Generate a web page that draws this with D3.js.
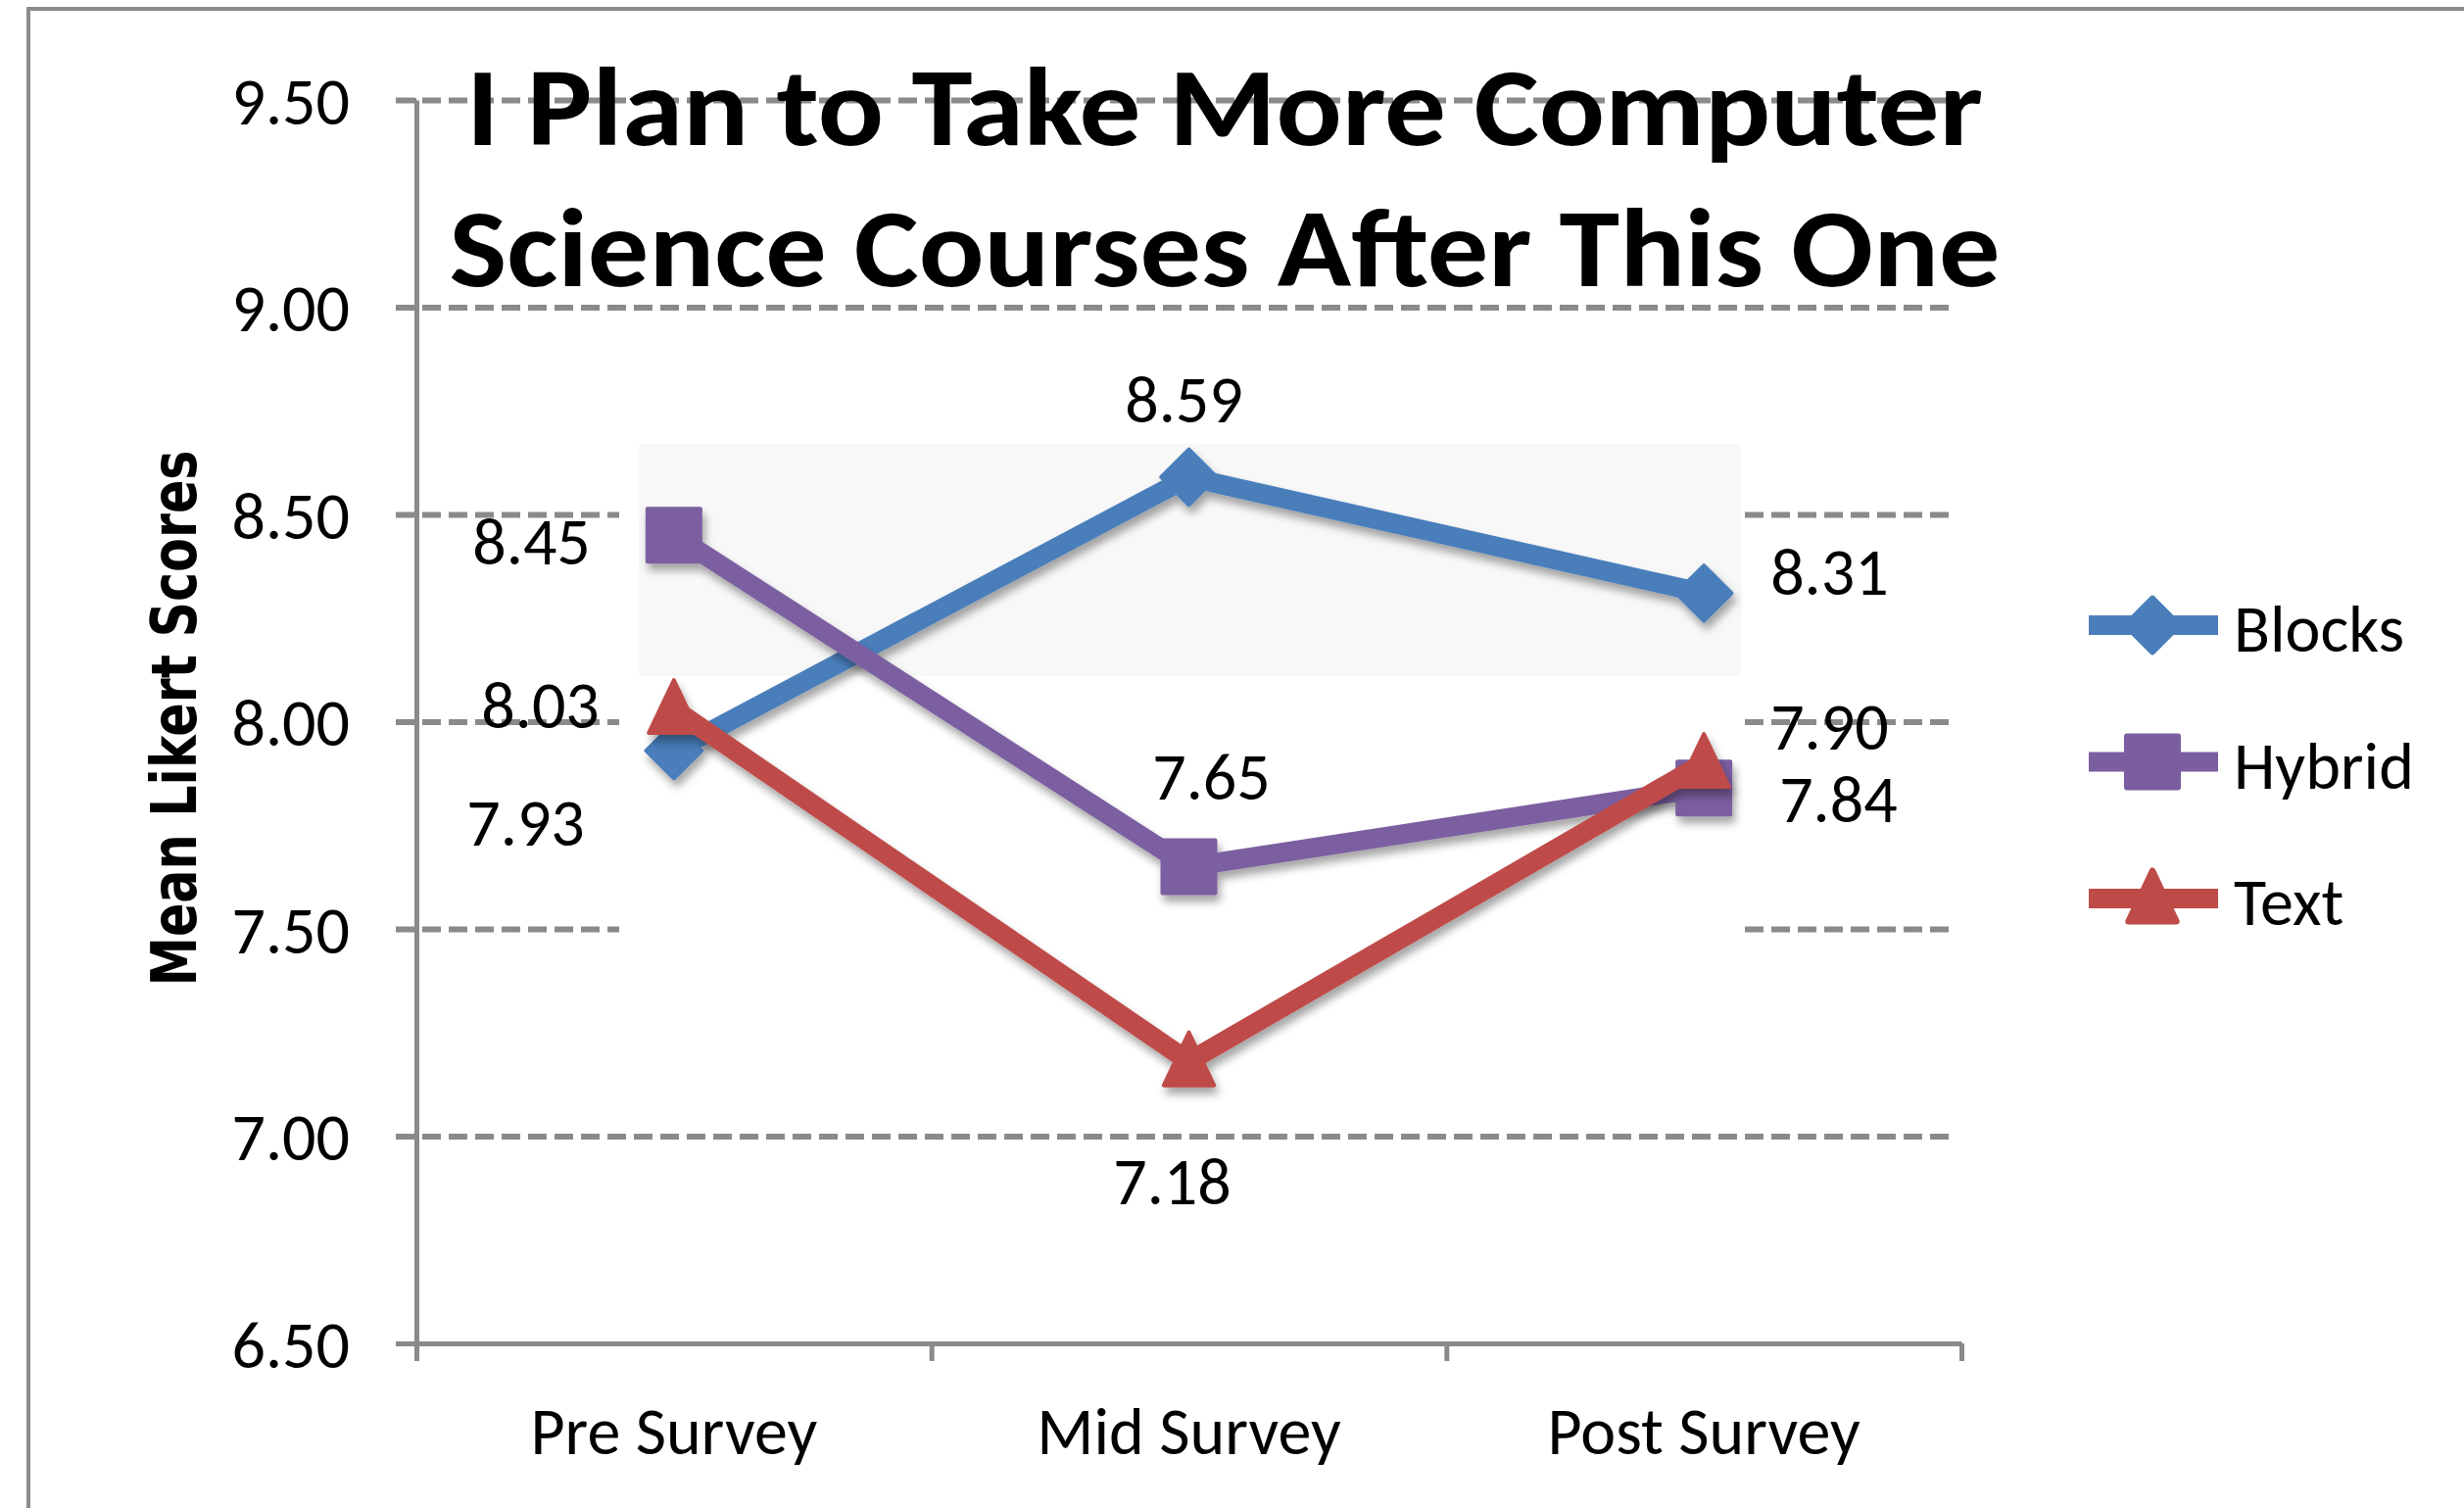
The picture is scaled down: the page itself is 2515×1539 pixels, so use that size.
<!DOCTYPE html>
<html>
<head>
<meta charset="utf-8">
<script src="https://cdn.jsdelivr.net/npm/d3@7"></script>
<style>
  body { margin: 0; background: #ffffff; }
  .label { font-family: Carlito, Lato, sans-serif; font-size: 68px; fill: #000; }
  .tick text { font-family: Carlito, Lato, sans-serif; font-size: 68px; fill: #000; }
</style>
</head>
<body>
<div class="Chart"></div>
<script>
// mean likert scores, three survey points, three course types

var categories = ["Pre Survey", "Mid Survey", "Post Survey"]
var series = ["Blocks", "Hybrid", "Text"]
var blocks = [7.93, 8.59, 8.31]
var hybrid = [8.45, 7.65, 7.84]
var text = [8.03, 7.18, 7.90]
var yTicks = [6.5, 7.0, 7.5, 8.0, 8.5, 9.0, 9.5]

var title = ["I Plan to Take More Computer", "Science Courses After This One"]
var y_label = "Mean Likert Scores"

var colors = ["#4a7ebb", "#7b5ea0", "#be4b48"]
var shapes = ["diamond", "square", "triangle"]

// where each value label sits relative to its marker (same order as the values)
var labelPos = [
  [{dx: -91, dy: 97, a: "end"}, {dx: -5, dy: -56, a: "middle"}, {dx: 68, dy: 2, a: "start"}],
  [{dx: -85, dy: 30, a: "end"}, {dx: 23, dy: -69, a: "middle"}, {dx: 77, dy: 35, a: "start"}],
  [{dx: -76, dy: 19, a: "end"}, {dx: -17, dy: 146, a: "middle"}, {dx: 68, dy: -14, a: "start"}]
]

var width = 2515
var height = 1539
var plot = {left: 425, right: 2002, top: 102, bottom: 1371}
var grid_end = 1997
var axis_gray = "#8a8a8a"

var values = [blocks, hybrid, text]
var data = series.map(function(name, i) {
  return {name: name, color: colors[i], shape: shapes[i],
    points: values[i].map(function(v, j) { return {cat: categories[j], value: v, pos: labelPos[i][j]}; })}
})

var svg = d3.select(".Chart")
  .append("svg")
    .attr("width", width)
    .attr("height", height)

var defs = svg.append("defs")
defs.append("filter")
    .attr("id", "shadow")
    .attr("x", "-20%").attr("y", "-20%").attr("width", "140%").attr("height", "140%")
  .append("feDropShadow")
    .attr("dx", 3)
    .attr("dy", 7)
    .attr("stdDeviation", 4)
    .attr("flood-color", "#000")
    .attr("flood-opacity", 0.35)

// outer frame (only top and left edges show)
svg.append("path")
    .attr("d", "M29," + height + "V9H" + width)
    .attr("fill", "none")
    .attr("stroke", "#8c8c8c")
    .attr("stroke-width", 4)

var x = d3.scaleBand()
    .domain(categories)
    .range([plot.left, plot.right])
var xEdge = d3.scaleLinear()
    .domain([0, categories.length])
    .range([plot.left, plot.right])
var y = d3.scaleLinear()
    .domain([6.5, 9.5])
    .range([plot.bottom, plot.top])

function cx(d) { return x(d.cat) + x.bandwidth() / 2; }

// dashed gridlines
svg.append("g")
    .attr("transform", "translate(404,0)")
    .call(d3.axisLeft(y).tickValues(yTicks.slice(1)).tickSize(-(grid_end - 404)).tickFormat(""))
    .call(function(g) { g.select(".domain").remove(); })
    .selectAll("line")
      .attr("stroke", axis_gray)
      .attr("stroke-width", 6)
      .attr("stroke-dasharray", "19,8")

// white patch and light grey patch hiding part of the grid (as in the pasted original)
svg.append("rect")
    .attr("x", 632).attr("y", 440)
    .attr("width", 1780 - 632).attr("height", 1125 - 440)
    .attr("fill", "#ffffff")
svg.append("rect")
    .attr("x", 652).attr("y", 453)
    .attr("width", 1777 - 652).attr("height", 690 - 453)
    .attr("fill", "#f8f8f8")

// y axis
var yAxis = svg.append("g")
    .attr("transform", "translate(" + plot.left + ",0)")
    .call(d3.axisLeft(y).tickValues(yTicks).tickSize(21).tickSizeOuter(0).tickPadding(47)
      .tickFormat(d3.format(".2f")))
yAxis.selectAll("line, path")
    .attr("stroke", axis_gray)
    .attr("stroke-width", 5)
yAxis.selectAll("text").attr("dy", "0.36em")

// x axis: boundary ticks + category names
var xAxis = svg.append("g")
    .attr("transform", "translate(0," + plot.bottom + ")")
    .call(d3.axisBottom(xEdge).ticks(categories.length).tickSize(18).tickSizeOuter(0).tickFormat(""))
xAxis.selectAll("line, path")
    .attr("stroke", axis_gray)
    .attr("stroke-width", 5)

svg.append("g")
    .attr("transform", "translate(0," + plot.bottom + ")")
    .call(d3.axisBottom(x).tickSize(0).tickPadding(0))
    .call(function(g) { g.select(".domain").remove(); })
    .selectAll("text")
      .attr("y", 113)
      .attr("dy", 0)

// marker shapes
var customDiamond = {
  draw: function(context, size) {
    var r = Math.sqrt(size) / 2;
    context.moveTo(0, -r);
    context.lineTo(r, 0);
    context.lineTo(0, r);
    context.lineTo(-r, 0);
    context.closePath();
  }
}
var customTriangle = {
  draw: function(context, size) {
    var r = Math.sqrt(size) / 2;
    context.moveTo(0, -r * 1.1);
    context.lineTo(r * 0.95, r * 0.9);
    context.lineTo(-r * 0.95, r * 0.9);
    context.closePath();
  }
}
function symbolFor(shape, s) {
  if (shape == "diamond") return d3.symbol().type(customDiamond).size(s * s * 1.1)();
  if (shape == "square") return d3.symbol().type(d3.symbolSquare).size(s * s)();
  return d3.symbol().type(customTriangle).size(s * s)();
}

var line = d3.line()
    .x(cx)
    .y(function(d) { return y(d.value); })

var serie = svg.append("g").selectAll(".serie")
  .data(data)
  .enter()
    .append("g")
    .attr("class", "serie")
    .attr("filter", "url(#shadow)")

serie.append("path")
    .attr("d", function(d) { return line(d.points); })
    .attr("fill", "none")
    .attr("stroke", function(d) { return d.color; })
    .attr("stroke-width", 20)
    .attr("stroke-linejoin", "round")

serie.each(function(s) {
  d3.select(this).selectAll(".marker")
    .data(s.points)
    .enter()
      .append("path")
      .attr("class", "marker")
      .attr("d", symbolFor(s.shape, 54))
      .attr("fill", s.color)
      .attr("stroke", s.color)
      .attr("stroke-width", 4)
      .attr("stroke-linejoin", "round")
      .attr("transform", function(d) { return "translate(" + cx(d) + "," + y(d.value) + ")"; })
})

// value labels
serie.each(function(s) {
  d3.select(this.parentNode).append("g").selectAll("text")
    .data(s.points)
    .enter()
      .append("text")
      .attr("class", "label")
      .attr("x", function(d) { return cx(d) + d.pos.dx; })
      .attr("y", function(d) { return y(d.value) + d.pos.dy; })
      .attr("text-anchor", function(d) { return d.pos.a; })
      .text(function(d) { return d3.format(".2f")(d.value); })
})

// title
svg.append("g").selectAll("text")
  .data(title)
  .enter()
    .append("text")
    .attr("x", 1250)
    .attr("y", function(d, i) { return 148 + i * 144; })
    .attr("text-anchor", "middle")
    .attr("textLength", function(d, i) { return i == 0 ? 1548 : 1583; })
    .attr("lengthAdjust", "spacingAndGlyphs")
    .style("font-family", "Carlito, Lato, sans-serif")
    .style("font-weight", "bold")
    .style("font-size", "114px")
    .text(function(d) { return d; })

// y axis title
svg.append("text")
    .attr("transform", "translate(200,733)rotate(-90)")
    .attr("text-anchor", "middle")
    .attr("textLength", 547)
    .attr("lengthAdjust", "spacingAndGlyphs")
    .style("font-family", "'DejaVu Sans', Verdana, sans-serif")
    .style("font-weight", "bold")
    .style("font-size", "64px")
    .text(y_label)

// legend
var legend = svg.append("g").selectAll(".legend")
  .data(data)
  .enter()
    .append("g")
    .attr("class", "legend")
    .attr("transform", function(d, i) { return "translate(2132," + (638 + i * 139.5) + ")"; })

legend.append("line")
    .attr("x1", 0).attr("x2", 132)
    .attr("stroke", function(d) { return d.color; })
    .attr("stroke-width", 20)
legend.append("path")
    .attr("d", function(d) { return symbolFor(d.shape, 52); })
    .attr("transform", "translate(65,0)")
    .attr("fill", function(d) { return d.color; })
    .attr("stroke", function(d) { return d.color; })
    .attr("stroke-width", 6)
    .attr("stroke-linejoin", "round")
legend.append("text")
    .attr("class", "label")
    .attr("x", 148)
    .attr("y", 27)
    .text(function(d) { return d.name; })
</script>
</body>
</html>
